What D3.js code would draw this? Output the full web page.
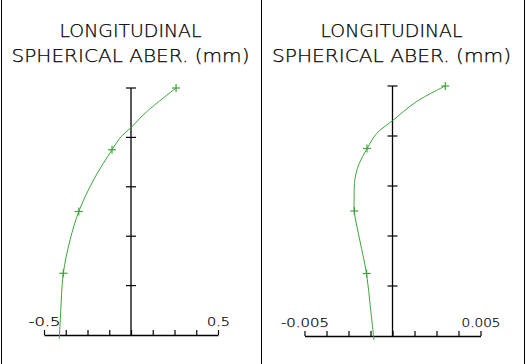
<!DOCTYPE html>
<html><head><meta charset="utf-8">
<script src="https://cdn.jsdelivr.net/npm/d3@7"></script>
<style>
html,body{margin:0;padding:0;background:#fff;}
svg{display:block;}
text{font-family:"DejaVu Sans",sans-serif;font-weight:200;fill:#000;stroke:#000;stroke-width:0.25;}
</style></head>
<body>
<script>
// ---- data ----
const titleLines = ["LONGITUDINAL", "SPHERICAL ABER. (mm)"];
const yTickValues = [0.2, 0.4, 0.6, 0.8, 1.0];

// left panel (mm), pupil height normalized
const leftDomain = [-0.5, 0.5];
const leftTickLabels = ["-0.5", "0.5"];
const leftPupil = [1.0, 0.904, 0.84, 0.803, 0.75, 0.628, 0.5, 0.385, 0.25, 0.081, -0.016];
const leftAber  = [0.259, 0.09, 0.0, -0.057, -0.109, -0.215, -0.30, -0.350, -0.389, -0.405, -0.412];
const leftMarkPupil = [1.0, 0.75, 0.5, 0.25];
const leftMarkAber  = [0.259, -0.109, -0.30, -0.389];

// right panel (mm)
const rightDomain = [-0.005, 0.005];
const rightTickLabels = ["-0.005", "0.005"];
const rightPupil = [1.0, 0.937, 0.861, 0.81, 0.749, 0.69, 0.651, 0.611, 0.55, 0.497, 0.384, 0.247, 0.117, -0.016];
const rightAber  = [0.0030, 0.00135, 0.0, -0.0009, -0.00145, -0.00189, -0.00207, -0.00216, -0.00218, -0.00217, -0.00186, -0.00147, -0.00126, -0.00105];
const rightMarkPupil = [1.0, 0.75, 0.5, 0.25];
const rightMarkAber  = [0.0030, -0.00145, -0.00217, -0.00147];

const W = 526, H = 364;
const green = "#3aa63a";

const svg = d3.select("body").append("svg").attr("width", W).attr("height", H);

// panel borders
[1.5, 261.5, 524.5].forEach(x => {
  svg.append("line").attr("x1", x).attr("x2", x).attr("y1", 0).attr("y2", H)
    .attr("stroke", "#000").attr("stroke-width", 1);
});

function panel(cfg) {
  const g = svg.append("g");
  const x = d3.scaleLinear().domain(cfg.domain).range(cfg.xRange);
  const y = d3.scaleLinear().domain([0, 1]).range(cfg.yRange);

  // titles
  g.append("text").attr("x", cfg.titleCx).attr("y", 37).attr("text-anchor", "middle")
    .attr("font-size", 17).attr("textLength", cfg.t1Len).attr("lengthAdjust", "spacingAndGlyphs")
    .text(titleLines[0]);
  g.append("text").attr("x", cfg.titleCx).attr("y", 62).attr("text-anchor", "middle")
    .attr("font-size", 17).attr("textLength", cfg.t2Len).attr("lengthAdjust", "spacingAndGlyphs")
    .text(titleLines[1]);

  // x axis
  const d0 = cfg.domain[0], d1 = cfg.domain[1];
  const tv = d3.range(9).map(i => d0 + (d1 - d0) * i / 8);
  const ax = d3.axisTop(x).tickValues(tv).tickSizeInner(5).tickSizeOuter(0).tickPadding(4)
    .tickFormat((d, i) => i === 0 ? cfg.labels[0] : (i === 8 ? cfg.labels[1] : ""));
  const axg = g.append("g").attr("transform", `translate(0,${y(0)})`).call(ax);
  axg.select(".domain").attr("stroke", "#000").attr("stroke-width", 1.3);
  axg.selectAll(".tick line").attr("stroke", "#000").attr("stroke-width", 1.2);
  axg.selectAll(".tick text").attr("font-size", 12.5)
    .attr("font-family", '"DejaVu Sans",sans-serif').attr("font-weight", 200).attr("fill", "#000")
    .attr("stroke", "#000").attr("stroke-width", 0.25)
    .attr("textLength", (d, i) => i === 0 ? cfg.l0Len : (i === 8 ? cfg.l1Len : null))
    .attr("lengthAdjust", "spacingAndGlyphs");

  // vertical axis
  const x0 = x(0);
  g.append("line").attr("x1", x0).attr("x2", x0).attr("y1", y(0)).attr("y2", y(1))
    .attr("stroke", "#000").attr("stroke-width", 1.3);
  g.selectAll(".yt").data(yTickValues).enter().append("line")
    .attr("x1", x0 - 5).attr("x2", x0 + 5).attr("y1", d => y(d)).attr("y2", d => y(d))
    .attr("stroke", "#000").attr("stroke-width", 1.2);

  // curve
  const pts = cfg.pupil.map((p, i) => [cfg.aber[i], p]);
  const line = d3.line().x(d => x(d[0])).y(d => y(d[1])).curve(d3.curveCatmullRom.alpha(0.5));
  g.append("path").attr("d", line(pts)).attr("fill", "none").attr("stroke", green).attr("stroke-width", 1);

  // markers
  const m = cfg.markPupil.map((p, i) => [cfg.markAber[i], p]);
  const mg = g.selectAll(".mk").data(m).enter().append("g")
    .attr("transform", d => `translate(${x(d[0])},${y(d[1])})`);
  mg.append("line").attr("x1", -4).attr("x2", 4).attr("y1", 0).attr("y2", 0).attr("stroke", green).attr("stroke-width", 1.2);
  mg.append("line").attr("x1", 0).attr("x2", 0).attr("y1", -4).attr("y2", 4).attr("stroke", green).attr("stroke-width", 1.2);
}

panel({domain: leftDomain, xRange: [44, 218], yRange: [335, 88], labels: leftTickLabels,
  pupil: leftPupil, aber: leftAber, markPupil: leftMarkPupil, markAber: leftMarkAber,
  titleCx: 130.5, t1Len: 142, t2Len: 238, l0Len: 32, l1Len: 23});
panel({domain: rightDomain, xRange: [304.5, 480.5], yRange: [336, 86], labels: rightTickLabels,
  pupil: rightPupil, aber: rightAber, markPupil: rightMarkPupil, markAber: rightMarkAber,
  titleCx: 391.5, t1Len: 142, t2Len: 239, l0Len: 48, l1Len: 39});
</script>
</body></html>
